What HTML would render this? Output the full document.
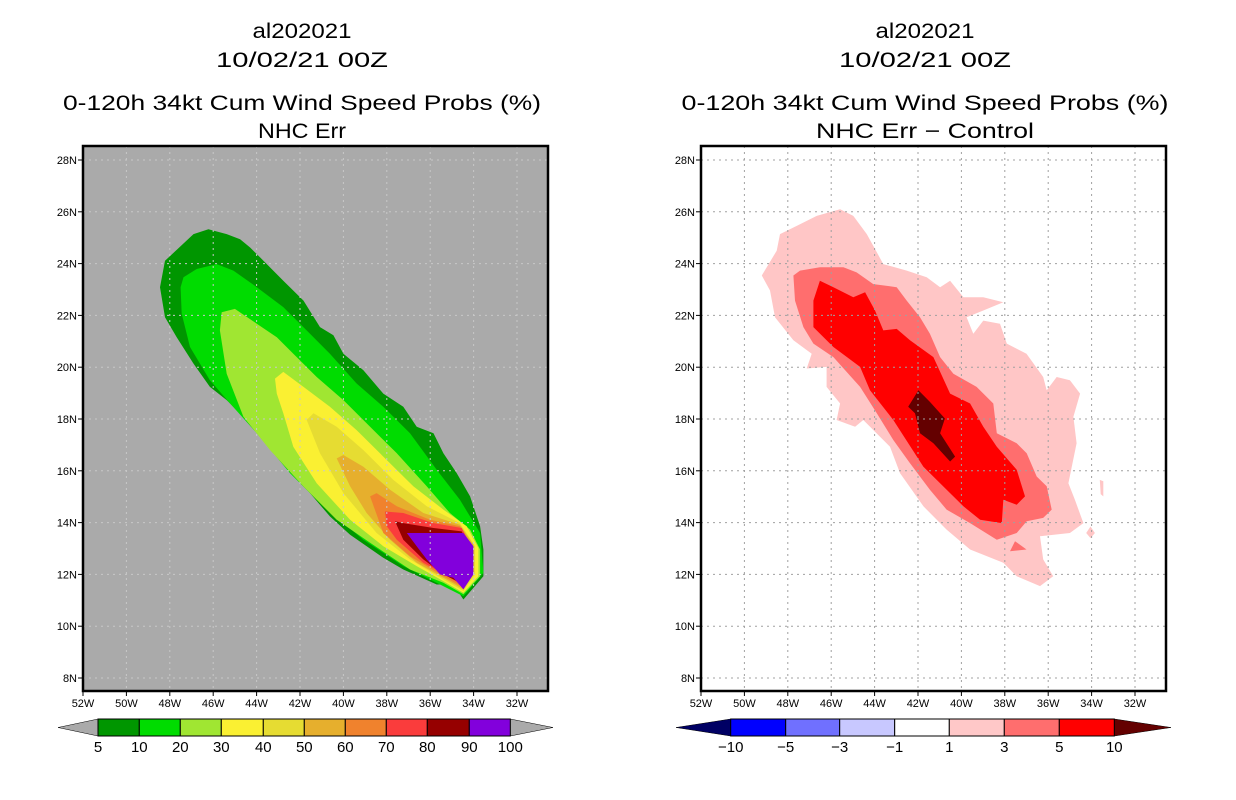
<!DOCTYPE html>
<html><head><meta charset="utf-8"><style>
html,body{margin:0;padding:0;background:#fff;}
svg{display:block;font-family:"Liberation Sans","DejaVu Sans",sans-serif;}
</style></head><body>
<svg id="chart" width="1236" height="800" viewBox="0 0 1236 800" xmlns="http://www.w3.org/2000/svg"></svg>
<script>
// ---------- data ----------
const lonTicks = [52,50,48,46,44,42,40,38,36,34,32];
const latTicks = [8,10,12,14,16,18,20,22,24,26,28];
const leftLevels = ['5','10','20','30','40','50','60','70','80','90','100'];
const leftColors = ['#009600','#00dc00','#a0e632','#faf032','#e6dc32','#e6af2d','#f0822d','#fa3c3c','#960000','#8200dc'];
const rightLevels = ['-10','-5','-3','-1','1','3','5','10'];
const rightColors = ['#0000ff','#7070ff','#c8c8ff','#ffffff','#ffc8c8','#ff6e6e','#ff0000'];
// contour polygons (lonW, latN)
const left5 = [[48.22,24.11],[46.91,25.14],[46.22,25.33],[45.38,25.14],[44.76,24.94],[44.30,24.62],[43.84,24.24],[42.77,23.34],[41.84,22.57],[41.08,21.55],[40.46,21.23],[40.00,20.52],[39.08,19.88],[38.16,18.98],[37.24,18.47],[36.62,17.70],[35.85,17.45],[35.39,16.68],[34.78,15.91],[34.16,15.01],[33.70,13.86],[33.55,12.96],[33.55,11.93],[34.47,11.03],[34.93,11.61],[35.70,11.61],[37.24,12.19],[38.16,12.64],[39.69,13.53],[40.62,14.24],[41.54,15.14],[42.46,16.04],[43.69,17.19],[44.46,17.96],[45.38,18.73],[46.15,19.24],[46.91,20.14],[47.68,21.16],[48.22,21.93],[48.45,23.09]];
const left10 = [[47.37,23.47],[46.76,23.79],[45.84,23.98],[45.07,23.73],[43.99,23.09],[42.77,22.32],[41.54,21.29],[40.62,20.52],[39.39,19.37],[38.16,18.47],[36.93,17.45],[35.70,16.04],[34.63,14.88],[33.70,13.60],[33.55,12.06],[34.47,11.16],[35.55,11.61],[37.24,12.32],[39.08,13.34],[40.92,14.62],[42.46,15.91],[43.99,17.45],[45.22,18.60],[46.15,19.50],[47.07,20.78],[47.45,22.06],[47.50,23.09]];
const left20 = [[45.61,22.12],[45.00,22.25],[43.99,21.68],[43.07,21.16],[42.31,20.52],[41.23,19.62],[40.00,18.73],[38.77,17.70],[37.54,16.68],[36.16,15.40],[35.09,14.37],[34.16,13.73],[33.70,12.96],[33.70,11.93],[34.47,11.23],[35.39,11.68],[36.93,12.19],[38.77,13.22],[40.31,14.11],[41.85,15.40],[43.38,16.80],[44.61,18.09],[45.38,19.75],[45.69,21.42]];
const left30 = [[43.15,19.56],[42.77,19.82],[41.84,19.24],[40.62,18.47],[39.39,17.57],[38.16,16.55],[36.78,15.40],[35.39,14.50],[34.32,13.86],[33.78,13.02],[33.78,11.93],[34.47,11.29],[35.39,11.74],[36.62,12.32],[38.16,13.09],[39.69,14.11],[41.23,15.52],[42.31,16.93],[42.77,18.22],[43.07,18.98]];
const left40 = [[41.69,17.96],[41.38,18.22],[40.31,17.70],[39.08,16.80],[37.70,15.65],[36.16,14.63],[34.63,13.98],[33.93,13.09],[33.93,12.00],[34.47,11.36],[35.39,11.80],[36.93,12.58],[38.47,13.60],[40.00,15.14],[41.08,16.68]];
const left50 = [[40.31,16.48],[40.00,16.61],[39.08,16.16],[37.85,15.27],[36.32,14.37],[34.63,13.92],[34.01,13.15],[34.01,12.06],[34.47,11.42],[35.39,11.87],[36.62,12.45],[37.85,13.34],[38.93,14.37],[39.69,15.40]];
const left60 = [[38.77,15.01],[38.47,15.14],[37.54,14.63],[36.01,14.11],[34.63,13.86],[34.09,13.15],[34.09,12.13],[34.47,11.49],[35.39,11.93],[36.93,12.70],[38.16,13.60]];
const left70 = [[38.08,14.43],[37.24,14.37],[35.85,13.98],[34.55,13.79],[34.16,13.15],[34.16,12.19],[34.47,11.55],[35.24,11.96],[36.32,12.45],[37.54,13.34],[38.00,13.86]];
const left80 = [[37.62,14.05],[37.24,13.98],[35.85,13.79],[34.55,13.66],[34.24,13.15],[34.24,12.25],[34.47,11.61],[35.39,12.00],[36.32,12.58],[37.24,13.34]];
const left90 = [[37.08,13.60],[34.47,13.60],[34.01,13.09],[34.01,12.00],[34.47,11.42],[34.93,11.87],[35.55,12.00],[36.16,12.58],[36.62,13.09]];
const right1 = [[49.20,23.54],[48.51,24.50],[48.36,25.14],[47.44,25.52],[46.67,25.84],[45.59,26.10],[44.98,25.84],[44.36,25.14],[43.60,23.98],[42.52,23.73],[41.60,23.47],[40.98,23.09],[40.52,23.34],[39.91,22.70],[38.99,22.70],[38.07,22.51],[38.99,22.19],[39.76,21.93],[39.45,21.29],[38.99,21.80],[38.22,21.68],[37.91,20.91],[37.00,20.52],[36.23,19.62],[36.07,19.11],[35.61,19.62],[35.00,19.50],[34.53,18.98],[34.84,18.09],[34.69,17.06],[35.07,15.52],[34.77,14.88],[34.38,13.98],[35.00,13.60],[36.38,13.47],[36.23,12.58],[35.77,11.93],[36.38,11.55],[37.45,11.93],[38.07,12.45],[39.60,12.96],[40.68,13.73],[41.75,14.63],[42.83,15.91],[43.29,16.93],[44.52,17.96],[44.90,17.70],[45.75,17.96],[45.59,18.60],[46.21,19.24],[46.21,20.01],[47.13,19.95],[46.90,20.52],[47.74,21.04],[48.59,21.93],[48.82,22.96]];
const right1b = [[33.62,15.65],[33.46,15.60],[33.46,15.01],[33.58,15.10]];
const right1c = [[34.05,13.85],[33.85,13.60],[34.05,13.40],[34.25,13.60]];
const right3 = [[47.74,23.54],[47.44,23.73],[46.52,23.86],[45.44,23.86],[44.83,23.66],[44.06,23.21],[42.98,23.09],[42.52,22.57],[41.91,21.93],[41.45,21.29],[40.98,20.39],[40.37,19.75],[39.30,19.24],[38.53,18.60],[38.37,17.45],[37.45,17.06],[36.99,16.68],[36.53,15.78],[36.07,15.40],[35.84,14.50],[36.23,14.18],[36.99,14.05],[37.45,13.60],[38.37,13.34],[39.60,13.98],[40.68,14.50],[41.45,15.27],[42.37,16.29],[43.14,17.19],[43.90,18.22],[44.67,19.24],[45.90,20.39],[46.82,20.91],[47.28,21.55],[47.67,22.57]];
const right3b = [[37.76,12.89],[37.53,13.28],[37.00,12.96]];
const right5 = [[46.82,22.57],[46.52,23.34],[45.90,23.09],[44.98,22.70],[44.44,22.89],[43.98,22.19],[43.60,21.42],[42.98,21.48],[42.37,21.04],[41.29,20.39],[40.52,18.98],[39.60,18.60],[38.99,17.70],[38.37,16.93],[37.45,16.04],[37.07,15.01],[37.45,14.69],[38.07,14.88],[38.14,13.98],[39.14,14.11],[39.91,14.63],[40.52,15.14],[41.75,16.16],[43.14,17.96],[44.21,19.11],[44.67,20.01],[45.90,20.78],[46.82,21.55]];
const right10 = [[41.98,19.11],[41.45,18.66],[40.76,18.02],[40.98,17.45],[40.29,16.55],[40.52,16.36],[41.29,17.06],[41.91,17.45],[42.14,18.22],[42.45,18.47]];

// ---------- helpers ----------
const NS='http://www.w3.org/2000/svg';
const svg=document.getElementById('chart');
function mk(tag,attrs,parent){const e=document.createElementNS(NS,tag);for(const k in attrs)e.setAttribute(k,attrs[k]);(parent||svg).appendChild(e);return e;}
function makeAxes(x0){
  return {x:function(lonW){return x0+(52-lonW)*21.7;}, y:function(lat){return 678-(lat-8)*25.9;}};
}
function drawPoly(ax,pts,color,g,name){
  const d=pts.map((p,i)=>(i?'L':'M')+ax.x(p[0]).toFixed(1)+','+ax.y(p[1]).toFixed(1)).join(' ')+'Z';
  const p=mk('path',{d:d,fill:color,stroke:'none'},g);
  
  
}
function title(cx,lines,g){
  const ys=[38,67,110,138];
  lines.forEach((t,i)=>{
    const tx=mk('text',{x:cx,y:ys[i],'text-anchor':'middle','font-size':'21',fill:'#000'},g);
    if(t.len){tx.setAttribute('textLength',t.len);tx.setAttribute('lengthAdjust','spacingAndGlyphs');}
    tx.textContent=t.s;
    
    
  });
}
function panel(x0,bg,gridColor,name){
  const g=mk('g',{});
  
  
  const ax=makeAxes(x0);
  const fx=x0, fy=146, fw=465, fh=545;
  const r=mk('rect',{x:fx,y:fy,width:fw,height:fh,fill:bg},g);
  
  
  return {g,ax,fx,fy,fw,fh,gridColor};
}
function finishPanel(P){
  const {g,ax,fx,fy,fw,fh,gridColor}=P;
  const grid=mk('g',{stroke:gridColor,'stroke-width':1,'stroke-dasharray':'2,4'},g);
  
  
  lonTicks.forEach(l=>{const x=ax.x(l); if(x>fx+2&&x<fx+fw-2) mk('line',{x1:x,y1:fy,x2:x,y2:fy+fh},grid);});
  latTicks.forEach(l=>{const y=ax.y(l); mk('line',{x1:fx,y1:y,x2:fx+fw,y2:y},grid);});
  const fr=mk('rect',{x:fx,y:fy,width:fw,height:fh,fill:'none',stroke:'#000','stroke-width':2.5},g);
  
  
  lonTicks.forEach(l=>{
    const x=ax.x(l);
    mk('line',{x1:x,y1:fy+fh,x2:x,y2:fy+fh+5,stroke:'#000','stroke-width':1},g);
    const t=mk('text',{x:x,y:fy+fh+16,'text-anchor':'middle','font-size':'11',fill:'#000'},g);
    t.textContent=l+'W';
    
    
  });
  latTicks.forEach(l=>{
    const y=ax.y(l);
    mk('line',{x1:fx-5,y1:y,x2:fx,y2:y,stroke:'#000','stroke-width':1},g);
    const t=mk('text',{x:fx-6,y:y+4,'text-anchor':'end','font-size':'11',fill:'#000'},g);
    t.textContent=l+'N';
    
    
  });
}
function colorbar(edges,tipL,tipR,colors,labels,leftTip,rightTip,name){
  const g=mk('g',{});
  
  
  const y0=719,y1=736,ym=727.5;
  const lt=mk('polygon',{points:`${tipL},${ym} ${edges[0]},${y0} ${edges[0]},${y1}`,fill:leftTip,stroke:'#000','stroke-width':0.5},g);
  
  
  const n=edges.length-1;
  const rt=mk('polygon',{points:`${tipR},${ym} ${edges[n]},${y0} ${edges[n]},${y1}`,fill:rightTip,stroke:'#000','stroke-width':0.5},g);
  
  
  for(let i=0;i<colors.length;i++){
    const b=mk('rect',{x:edges[i],y:y0,width:edges[i+1]-edges[i],height:y1-y0,fill:colors[i],stroke:'#000','stroke-width':1},g);
    
    
  }
  labels.forEach((s,i)=>{
    const t=mk('text',{x:edges[i],y:752,'text-anchor':'middle','font-size':'15',fill:'#000'},g);
    t.textContent=s.replace('-','\u2212');
    
    
  });
}

// ---------- left panel ----------
const L=panel(83,'#aaaaaa','#c8c8c8','left-panel');
const leftPolys=[left5,left10,left20,left30,left40,left50,left60,left70,left80,left90];
const lg=mk('g',{},L.g);


leftPolys.forEach((p,i)=>drawPoly(L.ax,p,leftColors[i],lg,'contour-'+leftLevels[i]));
finishPanel(L);
title(302,[{s:'al202021',len:99},{s:'10/02/21 00Z',len:172},{s:'0-120h 34kt Cum Wind Speed Probs (%)',len:478},{s:'NHC Err',len:88}],L.g);
const leftEdges=[98,139.3,180.3,221.3,263.3,304.3,345.3,386.3,427.3,469.3,510.3];
colorbar(leftEdges,58,553,leftColors,leftLevels,'#aaaaaa','#aaaaaa','left-colorbar');

// ---------- right panel ----------
const R=panel(701,'#ffffff','#a0a0a0','right-panel');
const rg=mk('g',{},R.g);


[[right1,'#ffc6c6','diff-1'],[right1b,'#ffc6c6','diff-1-blob'],[right1c,'#ffc6c6','diff-1-blob2'],[right3,'#ff6e6e','diff-3'],[right3b,'#ff6e6e','diff-3-blob'],[right5,'#ff0000','diff-5'],[right10,'#640000','diff-10']].forEach(a=>drawPoly(R.ax,a[0],a[1],rg,a[2]));
finishPanel(R);
title(925,[{s:'al202021',len:99},{s:'10/02/21 00Z',len:172},{s:'0-120h 34kt Cum Wind Speed Probs (%)',len:487},{s:'NHC Err \u2212 Control',len:218}],R.g);
const rightEdges=[730.7,785.7,839.7,894.7,949.3,1004.3,1059.3,1114.3];
colorbar(rightEdges,676,1171,rightColors,rightLevels,'#000064','#640000','right-colorbar');
</script>
</body></html>
